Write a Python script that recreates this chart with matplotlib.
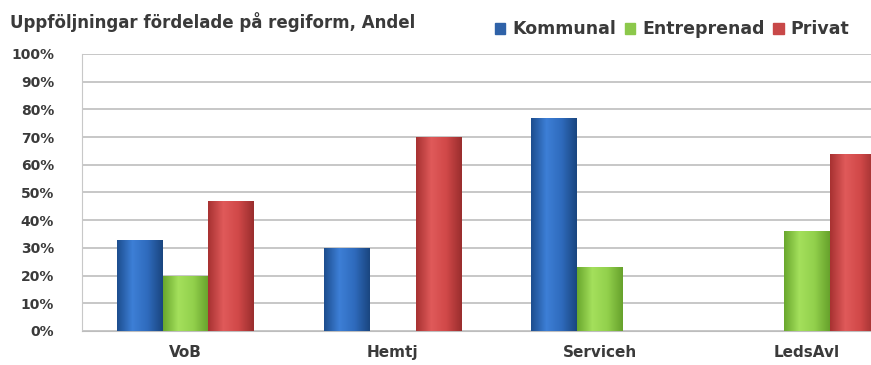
import numpy as np
import matplotlib.pyplot as plt
from matplotlib.colors import LinearSegmentedColormap
from matplotlib.ticker import PercentFormatter

categories = ["VoB", "Hemtj", "Serviceh", "LedsAvl"]
series = ["Kommunal", "Entreprenad", "Privat"]
kommunal = [33, 30, 77, 0]
entreprenad = [20, 0, 23, 36]
privat = [47, 70, 0, 64]
values = [kommunal, entreprenad, privat]

# dark edge, light middle, dark edge for the bevel look
shades = [
    ["#1d4e8f", "#3d7fd6", "#2f6bbd", "#1a4680"],
    ["#6aa82e", "#a4e05c", "#92d04c", "#67a22c"],
    ["#a83232", "#e05a5a", "#d04848", "#9a2e2e"],
]
legend_colors = ["#2f62a8", "#8cc84b", "#c84848"]
txt = "#3a3a3a"

fig = plt.figure(figsize=(8.71, 3.65), dpi=100)
ax = fig.add_axes([0.0941, 0.0932, 0.951, 0.759])

x = np.arange(len(categories))
w = 0.222
grad = np.linspace(0, 1, 64).reshape(1, -1)
for i, vals in enumerate(values):
    cmap = LinearSegmentedColormap.from_list(series[i], shades[i])
    bars = ax.bar(x + (i - 1) * w, vals, w, color=legend_colors[i], zorder=2,
                  linewidth=0)
    for b in bars:
        if b.get_height() <= 0:
            continue
        bx, by = b.get_x(), b.get_y()
        im = ax.imshow(grad, cmap=cmap, aspect="auto", zorder=3,
                       extent=[bx, bx + b.get_width(), by, by + b.get_height()])
        im.set_clip_path(b)

ax.set_xlim(-0.5, 3.5)
ax.set_ylim(0, 100)
ax.set_yticks(np.arange(0, 101, 10))
ax.yaxis.set_major_formatter(PercentFormatter(decimals=0))
ax.set_xticks(x)
ax.set_xticklabels(categories)
ax.grid(axis="y", color="#bdbdbd", linewidth=1.2, zorder=0)
ax.set_axisbelow(True)
for s in ["top", "right"]:
    ax.spines[s].set_visible(False)
ax.spines["left"].set_color("#c8c8c8")
ax.spines["bottom"].set_color("#bdbdbd")
ax.tick_params(length=0, colors=txt)
ax.tick_params(axis="y", pad=20, labelsize=10)
ax.tick_params(axis="x", pad=10, labelsize=11)
for lab in ax.get_yticklabels() + ax.get_xticklabels():
    lab.set_fontweight("bold")

fig.text(0.011, 0.94, "Uppföljningar fördelade på regiform, Andel",
         fontsize=12, fontweight="bold", color=txt, va="center")

handles = [plt.Rectangle((0, 0), 1, 1, color=c) for c in legend_colors]
fig.legend(handles, series, loc="center right", bbox_to_anchor=(0.985, 0.92),
           ncol=3, frameon=False, handlelength=0.6, handleheight=0.6,
           handletextpad=0.4, columnspacing=0.5, borderpad=0,
           prop={"size": 12.5, "weight": "bold"}, labelcolor=txt)

fig.savefig("out.png", dpi=100)
